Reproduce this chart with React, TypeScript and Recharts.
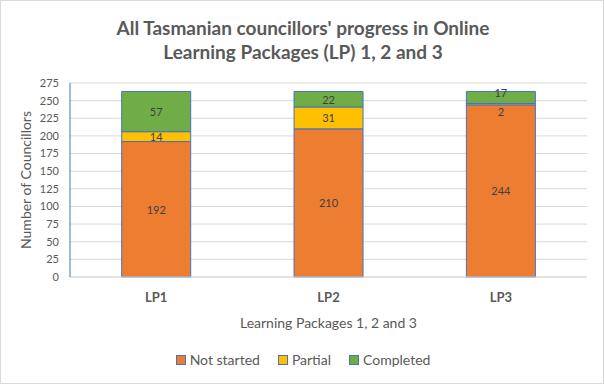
import React from 'react';
import { BarChart, Bar, XAxis, YAxis, CartesianGrid, LabelList } from 'recharts';

const categories = ['LP1', 'LP2', 'LP3'];
const notStarted = [192, 210, 244];
const partial = [14, 31, 2];
const completed = [57, 22, 17];
const yTicks = [0, 25, 50, 75, 100, 125, 150, 175, 200, 225, 250, 275];

const seriesNames = ['Not started', 'Partial', 'Completed'];
const seriesColors = ['#ED7D31', '#FFC000', '#70AD47'];
const labelShift: Record<string, number[]> = {
  notStarted: [0, 0, 0],
  partial: [0, 0, 7],
  completed: [0, 0, -5],
};

const data = categories.map((c, i) => ({
  name: c,
  notStarted: notStarted[i],
  partial: partial[i],
  completed: completed[i],
}));

const FONT = 'Lato, "Open Sans", sans-serif';

const makeLabel = (key: string) => (props: any) => {
  const { x, y, width, height, value, index } = props;
  const dy = labelShift[key][index] || 0;
  return (
    <text
      x={x + width / 2}
      y={y + height / 2 + dy}
      textAnchor="middle"
      dominantBaseline="central"
      fontSize={11}
      fill="#404040"
      fontFamily={FONT}
    >
      {value}
    </text>
  );
};

export default function App() {
  return (
    <div
      style={{
        position: 'absolute',
        left: 0,
        top: 0,
        width: 604,
        height: 384,
        boxSizing: 'border-box',
        border: '1px solid #D9D9D9',
        background: '#fff',
        fontFamily: FONT,
      }}
    >
      <div
        style={{
          position: 'absolute',
          left: 0,
          top: 15,
          width: 604,
          textAlign: 'center',
          fontSize: 19,
          fontWeight: 700,
          color: '#595959',
          lineHeight: '24px',
        }}
      >
        All Tasmanian councillors' progress in Online
        <br />
        Learning Packages (LP) 1, 2 and 3
      </div>
      <div style={{ position: 'absolute', left: -1, top: -1 }}>
        <BarChart
          width={604}
          height={384}
          data={data}
          margin={{ top: 83, right: 17, bottom: 77, left: 40 }}
          barCategoryGap="30%"
        >
          <CartesianGrid vertical={false} stroke="#D9D9D9" />
          <XAxis
            dataKey="name"
            tickLine={false}
            axisLine={{ stroke: '#D9D9D9' }}
            tick={{ fontSize: 13, fontWeight: 700, fill: '#595959', fontFamily: FONT }}
            tickMargin={10}
            label={{
              value: 'Learning Packages 1, 2 and 3',
              position: 'insideBottom',
              offset: -21,
              fontSize: 14,
              fill: '#595959',
              fontFamily: FONT,
            }}
          />
          <YAxis
            width={30}
            domain={[0, 275]}
            ticks={yTicks}
            interval={0}
            tickLine={false}
            axisLine={{ stroke: '#4472C4' }}
            tickMargin={5}
            tick={{ fontSize: 11, fill: '#595959', fontFamily: FONT }}
            label={{
              value: 'Number of Councillors',
              angle: -90,
              position: 'insideLeft',
              offset: -14,
              style: { textAnchor: 'middle' },
              fontSize: 14,
              fill: '#595959',
              fontFamily: FONT,
            }}
          />
          <Bar dataKey="notStarted" stackId="a" fill="#ED7D31" stroke="#4472C4" strokeWidth={1} isAnimationActive={false}>
            <LabelList dataKey="notStarted" content={makeLabel('notStarted')} />
          </Bar>
          <Bar dataKey="partial" stackId="a" fill="#FFC000" stroke="#4472C4" strokeWidth={1} isAnimationActive={false}>
            <LabelList dataKey="partial" content={makeLabel('partial')} />
          </Bar>
          <Bar dataKey="completed" stackId="a" fill="#70AD47" stroke="#4472C4" strokeWidth={1} isAnimationActive={false}>
            <LabelList dataKey="completed" content={makeLabel('completed')} />
          </Bar>
        </BarChart>
      </div>
      <div
        style={{
          position: 'absolute',
          left: 0,
          top: 350,
          width: 604,
          display: 'flex',
          justifyContent: 'center',
          gap: 18,
          fontSize: 14,
          lineHeight: '18px',
          color: '#595959',
        }}
      >
        {seriesNames.map((n, i) => (
          <div key={n} style={{ display: 'flex', alignItems: 'center' }}>
            <span
              style={{
                display: 'inline-block',
                width: 8,
                height: 8,
                background: seriesColors[i],
                border: '1px solid #4472C4',
                marginRight: 4,
              }}
            />
            {n}
          </div>
        ))}
      </div>
    </div>
  );
}
